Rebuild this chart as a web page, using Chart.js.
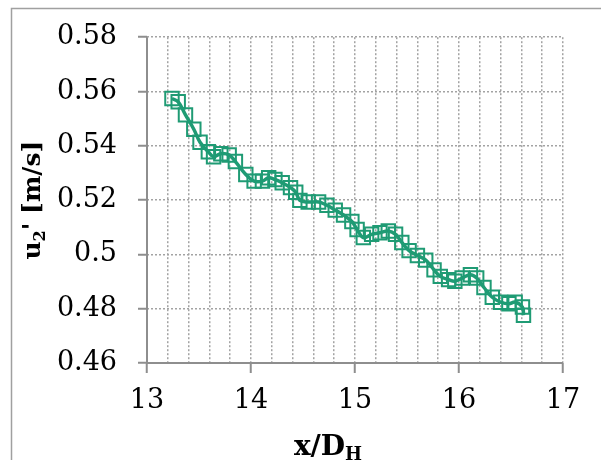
<!DOCTYPE html>
<html>
<head>
<meta charset="utf-8">
<script src="https://cdn.jsdelivr.net/npm/chart.js@4.4.0/dist/chart.umd.min.js"></script>
<style>
    html, body { margin: 0; padding: 0; background: #fff; }
    #wrap { width: 601px; height: 460px; position: relative; }
</style>
</head>
<body>
<div id="wrap"><canvas id="chart"></canvas></div>
<script>
// x/D_H positions and measured u2' values
const xPos = [
    13.24, 13.30, 13.37, 13.45, 13.51, 13.59, 13.64, 13.71, 13.79, 13.85,
    13.95, 14.03, 14.11, 14.17, 14.23, 14.30, 14.38, 14.43, 14.47, 14.55,
    14.65, 14.73, 14.81, 14.89, 14.97, 15.02, 15.08, 15.16, 15.24, 15.32,
    15.39, 15.45, 15.52, 15.60, 15.68, 15.76, 15.82, 15.90, 15.96, 16.03,
    16.11, 16.17, 16.24, 16.32, 16.40, 16.48, 16.54, 16.61, 16.62
];
const u2 = [
    0.5574, 0.5562, 0.5514, 0.5461, 0.5413, 0.5378, 0.5360, 0.5371, 0.5366, 0.5342,
    0.5294, 0.5270, 0.5270, 0.5282, 0.5276, 0.5264, 0.5246, 0.5229, 0.5199, 0.5193,
    0.5193, 0.5181, 0.5163, 0.5145, 0.5121, 0.5092, 0.5062, 0.5074, 0.5080, 0.5086,
    0.5074, 0.5044, 0.5014, 0.4996, 0.4979, 0.4943, 0.4919, 0.4907, 0.4901, 0.4913,
    0.4925, 0.4913, 0.4878, 0.4842, 0.4824, 0.4818, 0.4824, 0.4806, 0.4776
];

// axis ranges
const xRange = [13, 17];
const xMinorStep = 0.2;
const yRange = [0.46, 0.58];
const yStep = 0.02;

const green = '#1f9b74';
const gridGray = '#a3a3a3';
const axisGray = '#8e8e8e';
const serif = "'DejaVu Serif', 'Liberation Serif', serif";

function isWhole(v) {
    return Math.abs(v - Math.round(v)) < 1e-6;
}

// draws text with a lowered, smaller run in the middle (u2', D_H)
function drawRuns(ctx, runs, x, y, align) {
    let total = 0;
    runs.forEach(r => {
        ctx.font = r.font;
        r.w = ctx.measureText(r.text).width;
        total += r.w;
    });
    let cx = align === 'center' ? x - total / 2 : x;
    runs.forEach(r => {
        ctx.font = r.font;
        ctx.fillText(r.text, cx, y + (r.dy || 0));
        cx += r.w;
    });
}

const frameAndTitles = {
    id: 'frameAndTitles',
    beforeDraw(chart) {
        const ctx = chart.ctx;
        ctx.save();
        ctx.strokeStyle = '#a0a0a0';
        ctx.lineWidth = 1.5;
        ctx.strokeRect(11.5, 8.5, chart.width + 20, chart.height + 20);
        ctx.restore();
    },
    afterDatasetsDraw(chart) {
        const ctx = chart.ctx;
        const a = chart.chartArea;
        ctx.save();
        // solid left and bottom axes over the dotted grid
        ctx.strokeStyle = axisGray;
        ctx.lineWidth = 2;
        ctx.beginPath();
        ctx.moveTo(a.left, a.top);
        ctx.lineTo(a.left, a.bottom);
        ctx.lineTo(a.right, a.bottom);
        ctx.stroke();

        ctx.fillStyle = '#000';
        ctx.textBaseline = 'alphabetic';

        // x axis title
        drawRuns(ctx, [
            { text: 'x/D', font: 'bold 28px ' + serif },
            { text: 'H', font: 'bold 18px ' + serif, dy: 5 }
        ], a.left + 181, a.bottom + 92, 'center');

        // y axis title, rotated
        ctx.translate(40, (a.top + a.bottom) / 2);
        ctx.rotate(-Math.PI / 2);
        drawRuns(ctx, [
            { text: 'u', font: 'bold 25px ' + serif },
            { text: '2', font: 'bold 16px ' + serif, dy: 5 },
            { text: '\' [m/s]', font: 'bold 25px ' + serif }
        ], 0, 0, 'center');
        ctx.restore();
    }
};

const ctx = document.getElementById('chart').getContext('2d');

new Chart(ctx, {
    type: 'scatter',
    data: {
        datasets: [{
            data: xPos.map((x, i) => ({ x: x, y: u2[i] })),
            showLine: true,
            tension: 0.4,
            borderColor: green,
            borderWidth: 3.5,
            pointStyle: 'rect',
            pointRadius: 9.5,
            pointHoverRadius: 9.5,
            pointBorderWidth: 2,
            pointBorderColor: green,
            pointBackgroundColor: 'rgba(0,0,0,0)'
        }]
    },
    options: {
        responsive: true,
        maintainAspectRatio: false,
        animation: false,
        layout: {
            padding: { left: 0, right: 38, top: 27, bottom: 0 }
        },
        plugins: {
            legend: { display: false },
            tooltip: { enabled: false }
        },
        scales: {
            x: {
                type: 'linear',
                min: xRange[0],
                max: xRange[1],
                afterFit(scale) { scale.height = 97; },
                border: { display: false, dash: [2, 2] },
                grid: {
                    color: gridGray,
                    lineWidth: 1.5,
                    borderDash: [2, 2],
                    tickLength: 10,
                    tickWidth: 2,
                    tickBorderDash: [],
                    tickColor: c => isWhole(c.tick.value) ? axisGray : 'rgba(0,0,0,0)'
                },
                ticks: {
                    stepSize: xMinorStep,
                    autoSkip: false,
                    maxRotation: 0,
                    padding: 12,
                    color: '#000',
                    font: { family: serif, size: 27 },
                    callback: v => isWhole(v) ? String(Math.round(v)) : ''
                }
            },
            y: {
                type: 'linear',
                min: yRange[0],
                max: yRange[1],
                afterFit(scale) { scale.width = 147; },
                border: { display: false, dash: [2, 2] },
                grid: {
                    color: gridGray,
                    lineWidth: 1.5,
                    borderDash: [2, 2],
                    tickLength: 9,
                    tickWidth: 2,
                    tickBorderDash: [],
                    tickColor: axisGray
                },
                ticks: {
                    stepSize: yStep,
                    padding: 21,
                    color: '#000',
                    font: { family: serif, size: 27 },
                    callback: v => String(Number(v.toFixed(2)))
                }
            }
        }
    },
    plugins: [frameAndTitles]
});
</script>
</body>
</html>
